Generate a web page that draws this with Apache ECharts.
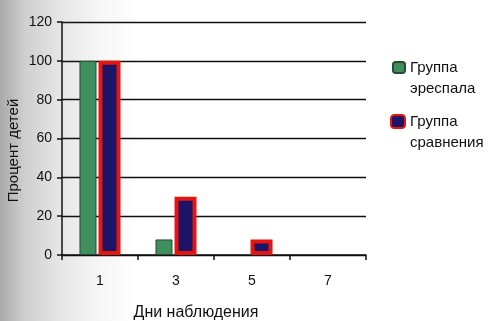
<!DOCTYPE html>
<html>
<head>
<meta charset="utf-8">
<script src="https://cdn.jsdelivr.net/npm/echarts@6/dist/echarts.min.js"></script>
<style>
html,body{margin:0;padding:0;overflow:hidden;}
body{background:linear-gradient(to right,#a9a9a9 0px,#cfcfcf 25px,#e6e6e6 60px,#f6f6f6 100px,#ffffff 140px);}
#c{width:500px;height:321px;}
</style>
</head>
<body>
<div id="c"></div>
<script>
var categories = ['1', '3', '5', '7'];
var seriesNames = ['Группа\nэреспала', 'Группа\nсравнения'];
var erespalValues = [100, 8, 0, 0];
var comparisonValues = [100, 30, 8, 0];
var yTicks = [0, 20, 40, 60, 80, 100, 120];

function toItems(values) {
  return values.map(function (v) {
    return v === 0 ? {value: v, itemStyle: {borderWidth: 0}} : {value: v};
  });
}

var chart = echarts.init(document.getElementById('c'));
var font = 'Liberation Sans, Arial, sans-serif';
var legendText = {fontFamily: font, fontSize: 15, color: '#111', lineHeight: 21};
function legendFmt(name) { return '\n' + name; }
chart.setOption({
  backgroundColor: 'transparent',
  animation: false,
  grid: {left: 62, width: 304, top: 22, height: 233, containLabel: false, outerBoundsMode: 'none'},
  legend: [
    {
      orient: 'vertical', left: 392, top: 36, padding: 0,
      itemWidth: 12, itemHeight: 11,
      textStyle: legendText, formatter: legendFmt,
      data: [seriesNames[0]]
    },
    {
      orient: 'vertical', left: 390, top: 90, padding: 0,
      itemWidth: 14, itemHeight: 13,
      textStyle: legendText, formatter: legendFmt,
      data: [seriesNames[1]]
    }
  ],
  xAxis: {
    type: 'category',
    data: categories,
    name: 'Дни наблюдения',
    nameLocation: 'middle',
    nameGap: 50,
    nameMoveOverlap: false,
    nameTextStyle: {fontFamily: font, fontSize: 16, color: '#111', padding: [0, 36, 0, 0]},
    axisLine: {lineStyle: {color: '#111', width: 1.5}},
    axisTick: {show: true, length: 5, lineStyle: {color: '#111', width: 1.5}},
    axisLabel: {fontFamily: font, fontSize: 14, color: '#111', margin: 19}
  },
  yAxis: {
    type: 'value',
    min: 0, max: 120, interval: 20,
    name: 'Процент детей',
    nameLocation: 'middle',
    nameGap: 41,
    nameMoveOverlap: false,
    nameRotate: 90,
    nameTextStyle: {fontFamily: font, fontSize: 15, color: '#111', padding: [0, 24, 0, 0]},
    axisLine: {show: true, lineStyle: {color: '#111', width: 1.5}},
    axisTick: {show: true, length: 5, lineStyle: {color: '#111', width: 1.5}},
    axisLabel: {fontFamily: font, fontSize: 14, color: '#111', margin: 10,
      formatter: function (v) { return yTicks.indexOf(v) >= 0 ? String(v) : ''; }},
    splitLine: {show: true, lineStyle: {color: '#111', width: 1.3}}
  },
  series: [
    {
      name: seriesNames[0], type: 'bar', data: toItems(erespalValues),
      barWidth: 17, barGap: '12%',
      itemStyle: {color: '#3f8f5e', borderColor: '#2a4a35', borderWidth: 1}
    },
    {
      name: seriesNames[1], type: 'bar', data: toItems(comparisonValues),
      barWidth: 22,
      itemStyle: {color: '#1c1466', borderColor: '#e8150f', borderWidth: 4}
    }
  ]
});
</script>
</body>
</html>
